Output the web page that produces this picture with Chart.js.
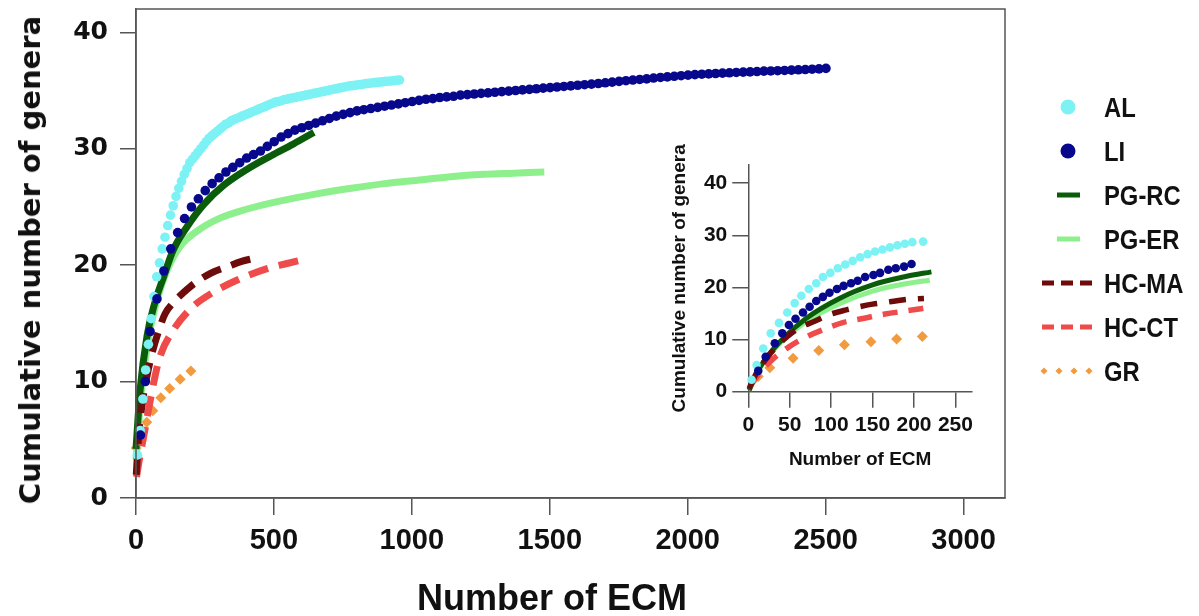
<!DOCTYPE html>
<html>
<head>
<meta charset="utf-8">
<title>Cumulative number of genera vs number of ECM</title>
<script src="https://cdn.jsdelivr.net/npm/chart.js@4.4.1/dist/chart.umd.min.js"></script>
<style>
  html, body { margin: 0; padding: 0; background: #fff; }
  #wrap { position: relative; width: 1199px; height: 616px; overflow: hidden; background: #fff; }
  #main { position: absolute; left: 0; top: 0; }
  #inset { position: absolute; left: 650px; top: 140px; }
  .ttl { position: absolute; color: #111; white-space: nowrap; line-height: 1; }
  #ytitle { left: 30px; top: 260px; font: bold 29px "DejaVu Sans", sans-serif; transform: translate(-50%, -50%) rotate(-90deg); }
  #xtitle { left: 552px; top: 598px; font: bold 36px "Liberation Sans", Arial, sans-serif; transform: translate(-50%, -50%); }
  .leg { position: absolute; left: 1030px; width: 169px; height: 30px; }
  .leg svg { position: absolute; left: 0; top: 5px; }
  /* narrow look of the original legend text */
  .leg span { position: absolute; left: 74px; top: 0; line-height: 30px; font: bold 28px "Liberation Sans", Arial, sans-serif;
              color: #111; white-space: nowrap; transform: scaleX(0.85); transform-origin: 0 50%; }
</style>
</head>
<body>
<div id="wrap">
  <canvas id="main" width="1199" height="616"></canvas>
  <canvas id="inset" width="340" height="345"></canvas>
  <div class="ttl" id="ytitle">Cumulative number of genera</div>
  <div class="ttl" id="xtitle">Number of ECM</div>
  <div id="legend"></div>
</div>
<script>
// ---- data ----
const seriesNames = ['AL', 'LI', 'PG-RC', 'PG-ER', 'HC-MA', 'HC-CT', 'GR'];

// main panel
const alX = [5,15,25,35,45,55,65,75,85,95,105,115,125,135,145,155,165,175,185,195,205,215,225,235,245,255,265,275,285,295,
  305,315,325,335,345,355,365,375,385,395,405,415,425,435,445,455,465,475,485,495,505,515,525,535,545,555,565,575,585,595,
  605,615,625,635,645,655,665,675,685,695,705,715,725,735,745,755,765,775,785,795,805,815,825,835,845,855,865,875,885,895,
  905,915,925,935,945,955];
const alY = [3.7,5.8,8.5,11.0,13.2,15.4,17.3,19.0,20.2,21.4,22.4,23.4,24.3,25.1,25.9,26.6,27.2,27.8,28.3,28.8,29.1,29.4,29.7,30.0,30.3,30.6,30.9,31.1,31.3,31.5,
  31.7,31.9,32.1,32.2,32.4,32.5,32.6,32.7,32.8,32.9,33.0,33.1,33.2,33.3,33.4,33.5,33.6,33.7,33.8,33.9,34.0,34.05,34.1,34.2,34.25,34.3,34.35,34.4,34.45,34.5,
  34.55,34.6,34.65,34.7,34.75,34.8,34.85,34.9,34.95,35.0,35.05,35.1,35.15,35.2,35.25,35.3,35.35,35.4,35.42,35.45,35.5,35.52,35.55,35.6,35.62,35.65,35.68,35.7,35.72,35.75,
  35.78,35.8,35.82,35.85,35.87,35.9];

const liX = [16,34,51,76,101,126,151,176,201,226,251,276,301,326,351,376,401,426,451,476,
  501,526,551,576,601,626,651,676,701,726,751,776,801,826,851,876,901,926,951,976,
  1001,1026,1051,1076,1101,1126,1151,1176,1201,1226,1251,1276,1301,1326,1351,1376,1401,1426,1451,1476,
  1501,1526,1551,1576,1601,1626,1651,1676,1701,1726,1751,1776,1801,1826,1851,1876,1901,1926,1951,1976,
  2001,2026,2051,2076,2101,2126,2151,2176,2201,2226,2251,2276,2301,2326,2351,2376,2401,2426,2451,2476,2501];
const liY = [5.4,10.0,14.3,17.1,19.5,21.4,22.8,24.0,25.0,25.7,26.4,27.0,27.5,28.0,28.4,28.8,29.2,29.5,29.8,30.2,
  30.6,31.0,31.3,31.6,31.8,32.0,32.2,32.4,32.6,32.8,32.95,33.1,33.25,33.35,33.45,33.55,33.65,33.75,33.85,33.95,
  34.05,34.15,34.25,34.3,34.4,34.45,34.5,34.6,34.65,34.7,34.75,34.8,34.85,34.9,34.95,35.0,35.05,35.1,35.15,35.2,
  35.25,35.3,35.35,35.4,35.45,35.5,35.55,35.6,35.66,35.72,35.78,35.84,35.9,35.95,36.0,36.07,36.12,36.17,36.22,36.27,
  36.32,36.36,36.4,36.43,36.46,36.49,36.52,36.55,36.58,36.6,36.63,36.66,36.68,36.7,36.72,36.75,36.78,36.8,36.83,36.86,36.9];

const pgrcX = [0,15,40,65,100,135,185,245,320,400,490,570,645];
const pgrcY = [4.2,9.3,13.9,16.5,19.0,21.3,23.3,25.2,26.9,28.2,29.4,30.4,31.4];
const pgerX = [0,20,50,80,110,160,220,300,400,520,650,780,900,1020,1140,1260,1370,1480];
const pgerY = [3.3,9.3,14.3,17.3,19.4,21.6,22.9,24.0,24.8,25.5,26.1,26.6,27.0,27.3,27.6,27.8,27.9,28.0];
const hcmaX = [1,10,25,40,60,80,105,140,175,210,270,335,380,430];
const hcmaY = [2.0,5.5,8.5,10.5,12.6,14.2,15.8,16.9,17.7,18.4,19.3,19.9,20.3,20.6];
const hcctX = [2,10,20,35,55,85,135,200,275,365,475,540,610];
const hcctY = [1.8,3.0,4.3,6.2,8.8,12.0,14.4,16.3,17.6,18.7,19.7,20.1,20.5];
const grX = [1,39,61,90,122,160,199];
const grY = [4.3,6.5,7.5,8.6,9.4,10.2,10.9];

const mainXTicks = [0, 500, 1000, 1500, 2000, 2500, 3000];
const mainYTicks = [0, 10, 20, 30, 40];

// inset panel
const inAlX = [4,10,18,27,37,47,56,64,73,82,90,99,108,117,126,135,144,153,162,171,180,189,198,211];
const inAlY = [2.3,5.1,8.3,11.2,13.2,15.2,17.0,18.4,19.7,20.8,22.0,22.8,23.7,24.4,25.1,25.8,26.4,26.9,27.3,27.7,28.1,28.4,28.7,28.8];
const inLiX = [12,21,32,41,49,57,66,74,82,90,98,107,115,124,132,141,151,159,169,178,188,197];
const inLiY = [4.0,6.7,9.3,11.2,12.8,14.0,15.2,16.3,17.4,18.2,19.0,19.7,20.3,20.8,21.3,22.0,22.4,22.8,23.4,23.7,24.0,24.5];
const inPgrcX = [1,10,20,42,70,110,150,190,221];
const inPgrcY = [0.3,3.5,6.1,10.2,14.1,17.9,20.5,22.1,23.0];
const inPgerX = [1,10,20,42,70,110,150,190,219];
const inPgerY = [0.3,3.4,6.0,9.9,13.5,16.9,19.3,20.7,21.4];
const inHcmaX = [1,10,25,45,62,80,96,118,150,173,191,212];
const inHcmaY = [0.6,3.6,7.0,10.3,12.3,13.5,14.7,15.7,16.8,17.3,17.7,17.9];
const inHcctX = [2,15,30,50,70,92,115,140,165,190,220];
const inHcctY = [1.0,3.8,6.3,8.7,10.5,12.0,13.3,14.1,14.9,15.5,16.2];
const inGrX = [12,26,54,85,116,148,179,210];
const inGrY = [2.9,4.6,6.4,7.9,9.0,9.6,10.1,10.6];

const insetXTicks = [0, 50, 100, 150, 200, 250];
const insetYTicks = [0, 10, 20, 30, 40];

// ---- styling ----
const colors = ['#7DF2F4', '#08088C', '#0A5C0A', '#8DF08D', '#6E0B0B', '#F04B4B', '#F29B3E'];
const AXIS = '#555';
const TXT = '#111';

const pts = (xs, ys) => xs.map((x, i) => ({ x: x, y: ys[i] }));

function dots(label, data, color, r) {
    return { label, data, showLine: false, pointRadius: r, pointHoverRadius: r,
             pointBackgroundColor: color, pointBorderWidth: 0, clip: false };
}
function diamonds(label, data, color, r) {
    return { label, data, showLine: false, pointStyle: 'rectRot', pointRadius: r, pointHoverRadius: r,
             pointBackgroundColor: color, pointBorderWidth: 0, clip: false };
}
function curve(label, data, color, w, dash) {
    return { label, data, showLine: true, borderColor: color, borderWidth: w, borderDash: dash || [],
             borderCapStyle: 'butt', pointRadius: 0, cubicInterpolationMode: 'monotone', clip: false };
}

// box round the main plot area
const boxPlugin = {
    id: 'box',
    afterDraw(chart) {
        const a = chart.chartArea, ctx = chart.ctx;
        ctx.save();
        ctx.strokeStyle = AXIS;
        ctx.lineWidth = 1.5;
        ctx.strokeRect(a.left, a.top, a.right - a.left, a.bottom - a.top);
        ctx.restore();
    }
};

// fixed-size axis: no automatic padding for end labels
function axis(min, max, ticks, opts) {
    return {
        type: 'linear', min: min, max: max,
        afterBuildTicks: s => { s.ticks = ticks.map(v => ({ value: v })); },
        afterFit: s => {
            if (opts.height) { s.height = opts.height; s.paddingLeft = 0; s.paddingRight = 0; }
            if (opts.width) { s.width = opts.width; s.paddingTop = 0; s.paddingBottom = 0; }
        },
        grid: { drawOnChartArea: false, drawTicks: true, tickLength: opts.tick, color: AXIS, lineWidth: 1.5 },
        border: { display: true, color: AXIS, width: 1.5 },
        ticks: { autoSkip: false, maxRotation: 0, minRotation: 0, padding: opts.pad, color: TXT, font: opts.font,
                 callback: v => String(v) },
        title: opts.title || { display: false }
    };
}

// ---- main chart ----
new Chart(document.getElementById('main'), {
    type: 'scatter',
    data: {
        datasets: [
            dots(seriesNames[1], pts(liX, liY), colors[1], 4.8),
            dots(seriesNames[0], pts(alX, alY), colors[0], 4.8),
            curve(seriesNames[4], pts(hcmaX, hcmaY), colors[4], 7, [20, 11]),
            curve(seriesNames[5], pts(hcctX, hcctY), colors[5], 7, [20, 11]),
            curve(seriesNames[2], pts(pgrcX, pgrcY), colors[2], 7),
            curve(seriesNames[3], pts(pgerX, pgerY), colors[3], 7),
            diamonds(seriesNames[6], pts(grX, grY), colors[6], 5.5)
        ]
    },
    options: {
        responsive: false, animation: false, events: [],
        layout: { padding: { left: 0, top: 9, right: 194, bottom: 0 } },
        plugins: { legend: { display: false }, tooltip: { enabled: false } },
        scales: {
            x: axis(0, 3150, mainXTicks, { height: 118, tick: 17, pad: 9,
                font: { family: 'Liberation Sans', size: 29, weight: 'bold' } }),
            y: axis(0, 42, mainYTicks, { width: 136, tick: 16, pad: 12,
                font: { family: 'DejaVu Sans', size: 25, weight: 'bold' } })
        }
    },
    plugins: [boxPlugin]
});

// ---- inset chart ----
const insetFont = { family: 'Liberation Sans', size: 21, weight: 'bold' };
const insetTitleFont = { family: 'Liberation Sans', size: 19, weight: 'bold', lineHeight: 1 };
new Chart(document.getElementById('inset'), {
    type: 'scatter',
    data: {
        datasets: [
            dots(seriesNames[1], pts(inLiX, inLiY), colors[1], 4.3),
            dots(seriesNames[0], pts(inAlX, inAlY), colors[0], 4.3),
            curve(seriesNames[4], pts(inHcmaX, inHcmaY), colors[4], 5.5, [17, 12]),
            curve(seriesNames[5], pts(inHcctX, inHcctY), colors[5], 5.5, [15, 11]),
            curve(seriesNames[2], pts(inPgrcX, inPgrcY), colors[2], 5),
            curve(seriesNames[3], pts(inPgerX, inPgerY), colors[3], 5),
            diamonds(seriesNames[6], pts(inGrX, inGrY), colors[6], 5.5)
        ]
    },
    options: {
        responsive: false, animation: false, events: [],
        layout: { padding: { left: 0, top: 25, right: 18, bottom: 0 } },
        plugins: { legend: { display: false }, tooltip: { enabled: false } },
        scales: {
            x: axis(0, 270, insetXTicks, { height: 93.3, tick: 16, pad: 5, font: insetFont,
                title: { display: true, text: 'Number of ECM', color: TXT, font: insetTitleFont, padding: { top: 0, bottom: 15.5 } } }),
            y: axis(0, 43.5, insetYTicks, { width: 98.3, tick: 16, pad: 5, font: insetFont,
                title: { display: true, text: 'Cumulative number of genera', color: TXT, font: insetTitleFont, padding: { top: 20, bottom: 0 } } })
        }
    }
});

// ---- legend ----
const legendKinds = ['dot', 'dot', 'line', 'line', 'dash', 'dash', 'diam'];
function marker(kind, color) {
    if (kind === 'dot') return `<circle cx="38" cy="10" r="7.5" fill="${color}"/>`;
    if (kind === 'line') return `<line x1="27" y1="10" x2="50" y2="10" stroke="${color}" stroke-width="5"/>`;
    if (kind === 'dash') return `<line x1="12" y1="10" x2="63" y2="10" stroke="${color}" stroke-width="5" stroke-dasharray="12 7"/>`;
    return [14, 29, 44, 59].map(cx => `<rect x="${cx - 2.5}" y="7.5" width="5" height="5" fill="${color}" transform="rotate(45 ${cx} 10)"/>`).join('');
}
const legend = document.getElementById('legend');
seriesNames.forEach((name, i) => {
    const row = document.createElement('div');
    row.className = 'leg';
    row.style.top = (107 + i * 44 - 15) + 'px';
    row.innerHTML = `<svg width="70" height="20">${marker(legendKinds[i], colors[i])}</svg><span>${name}</span>`;
    legend.appendChild(row);
});
</script>
</body>
</html>
